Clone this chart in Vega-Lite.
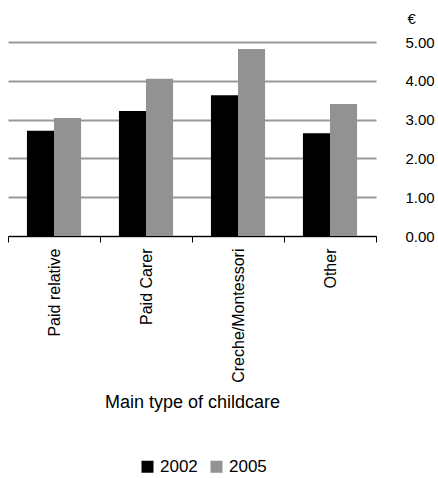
{
  "$schema": "https://vega.github.io/schema/vega-lite/v6.json",
  "autosize": "none",
  "width": 368,
  "height": 194,
  "padding": {"left": 8, "top": 42, "right": 62, "bottom": 242},
  "config": {
    "view": {"stroke": null},
    "font": "Liberation Sans",
    "axis": {"labelFont": "Liberation Sans", "titleFont": "Liberation Sans", "labelColor": "#000", "titleColor": "#000"},
    "legend": {"labelFont": "Liberation Sans", "labelColor": "#000"}
  },
  "data": {
    "values": [
      {"type": "Paid relative", "year": "2002", "value": 2.71},
      {"type": "Paid relative", "year": "2005", "value": 3.04},
      {"type": "Paid Carer", "year": "2002", "value": 3.22},
      {"type": "Paid Carer", "year": "2005", "value": 4.05},
      {"type": "Creche/Montessori", "year": "2002", "value": 3.63},
      {"type": "Creche/Montessori", "year": "2005", "value": 4.82},
      {"type": "Other", "year": "2002", "value": 2.65},
      {"type": "Other", "year": "2005", "value": 3.40}
    ]
  },
  "mark": {"type": "bar"},
  "encoding": {
    "x": {
      "field": "type",
      "type": "nominal",
      "sort": ["Paid relative", "Paid Carer", "Creche/Montessori", "Other"],
      "scale": {"paddingInner": 0, "paddingOuter": 0},
      "axis": {
        "title": "Main type of childcare",
        "titleFontSize": 18,
        "titleFontWeight": "normal",
        "titleBaseline": "alphabetic",
        "titleY": 171,
        "labelAngle": -90,
        "labelFontSize": 16,
        "labelPadding": 6,
        "tickBand": "extent",
        "tickSize": 6,
        "tickColor": "#000",
        "domainColor": "#000",
        "grid": false
      }
    },
    "xOffset": {
      "field": "year",
      "type": "nominal",
      "scale": {"paddingInner": 0, "paddingOuter": 0.7}
    },
    "y": {
      "field": "value",
      "type": "quantitative",
      "scale": {"domain": [0, 5]},
      "axis": {
        "orient": "right",
        "title": "€",
        "titleAngle": 0,
        "titleFontSize": 15,
        "titleFontWeight": "normal",
        "titleAlign": "left",
        "titleBaseline": "middle",
        "titleX": 31,
        "titleY": -24,
        "format": ".2f",
        "values": [0, 1, 2, 3, 4, 5],
        "labelFontSize": 15,
        "labelPadding": 29,
        "ticks": false,
        "tickSize": 0,
        "domain": false,
        "grid": true,
        "gridColor": "#999999",
        "gridWidth": 2,
        "gridOpacity": 1
      }
    },
    "color": {
      "field": "year",
      "type": "nominal",
      "scale": {"domain": ["2002", "2005"], "range": ["#000000", "#929292"]},
      "legend": {
        "title": null,
        "orient": "none",
        "direction": "horizontal",
        "legendX": 131,
        "legendY": 416,
        "symbolType": "square",
        "symbolSize": 144,
        "symbolStrokeWidth": 0,
        "labelFontSize": 17,
        "labelOffset": 4,
        "columnPadding": 10,
        "padding": 0
      }
    }
  }
}
